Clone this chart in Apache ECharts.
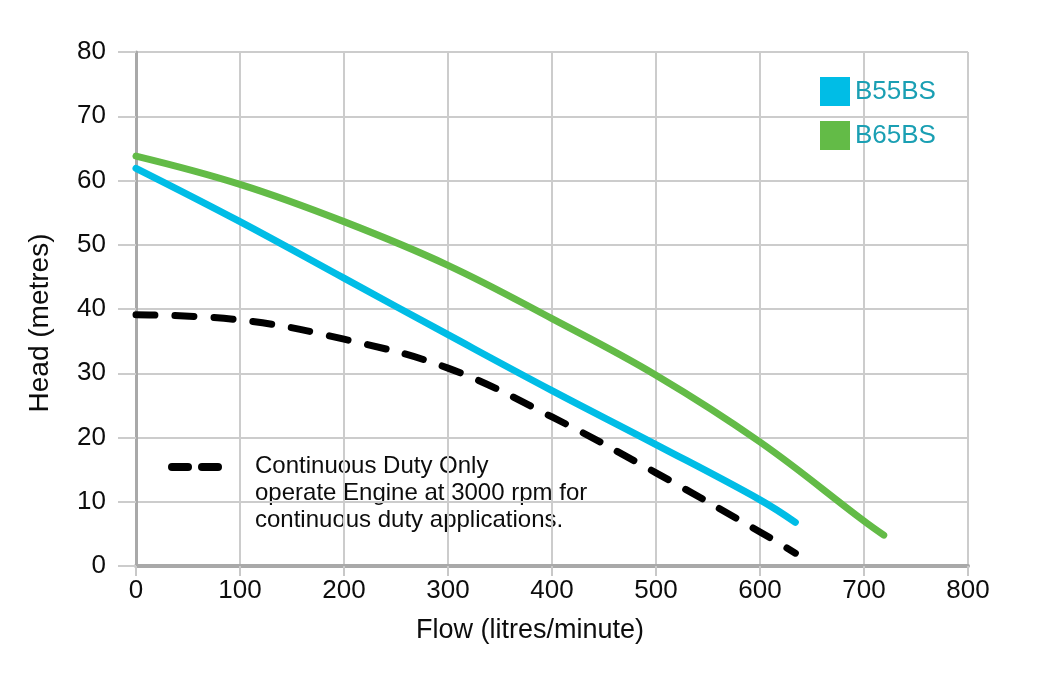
<!DOCTYPE html>
<html>
<head>
<meta charset="utf-8">
<script src="https://cdn.jsdelivr.net/npm/echarts@6/dist/echarts.min.js"></script>
<style>
html,body{margin:0;padding:0;background:#fff;}
#chart{width:1048px;height:684px;}
</style>
</head>
<body>
<div id="chart"></div>
<script>
const flow55 = [0, 100, 200, 300, 400, 500, 600, 634];
const b55bs = [61.9, 53.6, 44.8, 36.0, 27.3, 18.9, 10.3, 6.8];
const flow65 = [0, 100, 200, 300, 400, 500, 600, 700, 719];
const b65bs = [63.8, 59.4, 53.6, 46.8, 38.5, 29.7, 19.3, 7.0, 4.8];
const flowDuty = [0, 100, 200, 300, 400, 500, 600, 634];
const duty = [39.1, 38.3, 35.3, 30.8, 23.2, 14.5, 5.3, 2.0];
const seriesNames = ['B55BS', 'B65BS', 'Continuous Duty'];
const noteLines = ['Continuous Duty Only', 'operate Engine at 3000 rpm for', 'continuous duty applications.'];
const xTitle = 'Flow (litres/minute)';
const yTitle = 'Head (metres)';

const pairs = (xs, ys) => xs.map((x, i) => [x, ys[i]]);
const FONT = '"Liberation Sans", Arial, Helvetica, sans-serif';
const INK = '#0d0d0d';

const chart = echarts.init(document.getElementById('chart'), null, {renderer: 'canvas'});
chart.setOption({
  backgroundColor: '#ffffff',
  animation: false,
  grid: {left: 136, right: 80, top: 52, bottom: 118, containLabel: false},
  legend: {
    data: [seriesNames[0], seriesNames[1]],
    orient: 'vertical',
    left: 815, top: 72,
    icon: 'rect',
    itemWidth: 30, itemHeight: 29, itemGap: 15,
    textStyle: {color: '#1a9fb3', fontSize: 26, fontFamily: FONT, padding: [3, 0, 0, 0]}
  },
  xAxis: {
    type: 'value', min: 0, max: 800, interval: 100,
    axisLine: {show: true, onZero: false, lineStyle: {color: '#a9a9a9', width: 4}},
    axisTick: {show: true, length: 10, lineStyle: {color: '#c8c8c8', width: 2}},
    axisLabel: {color: INK, fontSize: 26, fontFamily: FONT, margin: 12},
    splitLine: {show: true, lineStyle: {color: '#cccccc', width: 2}}
  },
  yAxis: {
    type: 'value', min: 0, max: 80, interval: 10,
    axisLine: {show: true, onZero: false, lineStyle: {color: '#a9a9a9', width: 3}},
    axisTick: {show: true, length: 18, lineStyle: {color: '#cccccc', width: 2}},
    axisLabel: {color: INK, fontSize: 26, fontFamily: FONT, margin: 30},
    splitLine: {show: true, lineStyle: {color: '#cccccc', width: 2}}
  },
  series: [
    {
      name: seriesNames[0], type: 'line', smooth: 0.4, showSymbol: false,
      data: pairs(flow55, b55bs),
      itemStyle: {color: '#00bde6'},
      lineStyle: {color: '#00bde6', width: 7, cap: 'round'}
    },
    {
      name: seriesNames[1], type: 'line', smooth: 0.4, showSymbol: false,
      data: pairs(flow65, b65bs),
      itemStyle: {color: '#63bb47'},
      lineStyle: {color: '#63bb47', width: 7, cap: 'round'}
    },
    {
      name: seriesNames[2], type: 'line', smooth: 0.4, showSymbol: false,
      data: pairs(flowDuty, duty),
      itemStyle: {color: '#000'},
      lineStyle: {color: '#000', width: 7, type: [19, 20], cap: 'round'}
    }
  ],
  graphic: [
    {type: 'line', shape: {x1: 172, y1: 467, x2: 188, y2: 467}, style: {stroke: '#000', lineWidth: 8, lineCap: 'round'}},
    {type: 'line', shape: {x1: 202, y1: 467, x2: 218, y2: 467}, style: {stroke: '#000', lineWidth: 8, lineCap: 'round'}},
    {type: 'text', left: 255, top: 453, style: {text: noteLines.join('\n'), fill: INK, font: '24px ' + FONT, lineHeight: 27}},
    {type: 'text', x: 530, y: 631, style: {text: xTitle, fill: INK, font: '27px ' + FONT, align: 'center', verticalAlign: 'middle'}},
    {type: 'text', x: 40, y: 323, rotation: Math.PI / 2, style: {text: yTitle, fill: INK, font: '28px ' + FONT, align: 'center', verticalAlign: 'middle'}}
  ]
});
</script>
</body>
</html>
